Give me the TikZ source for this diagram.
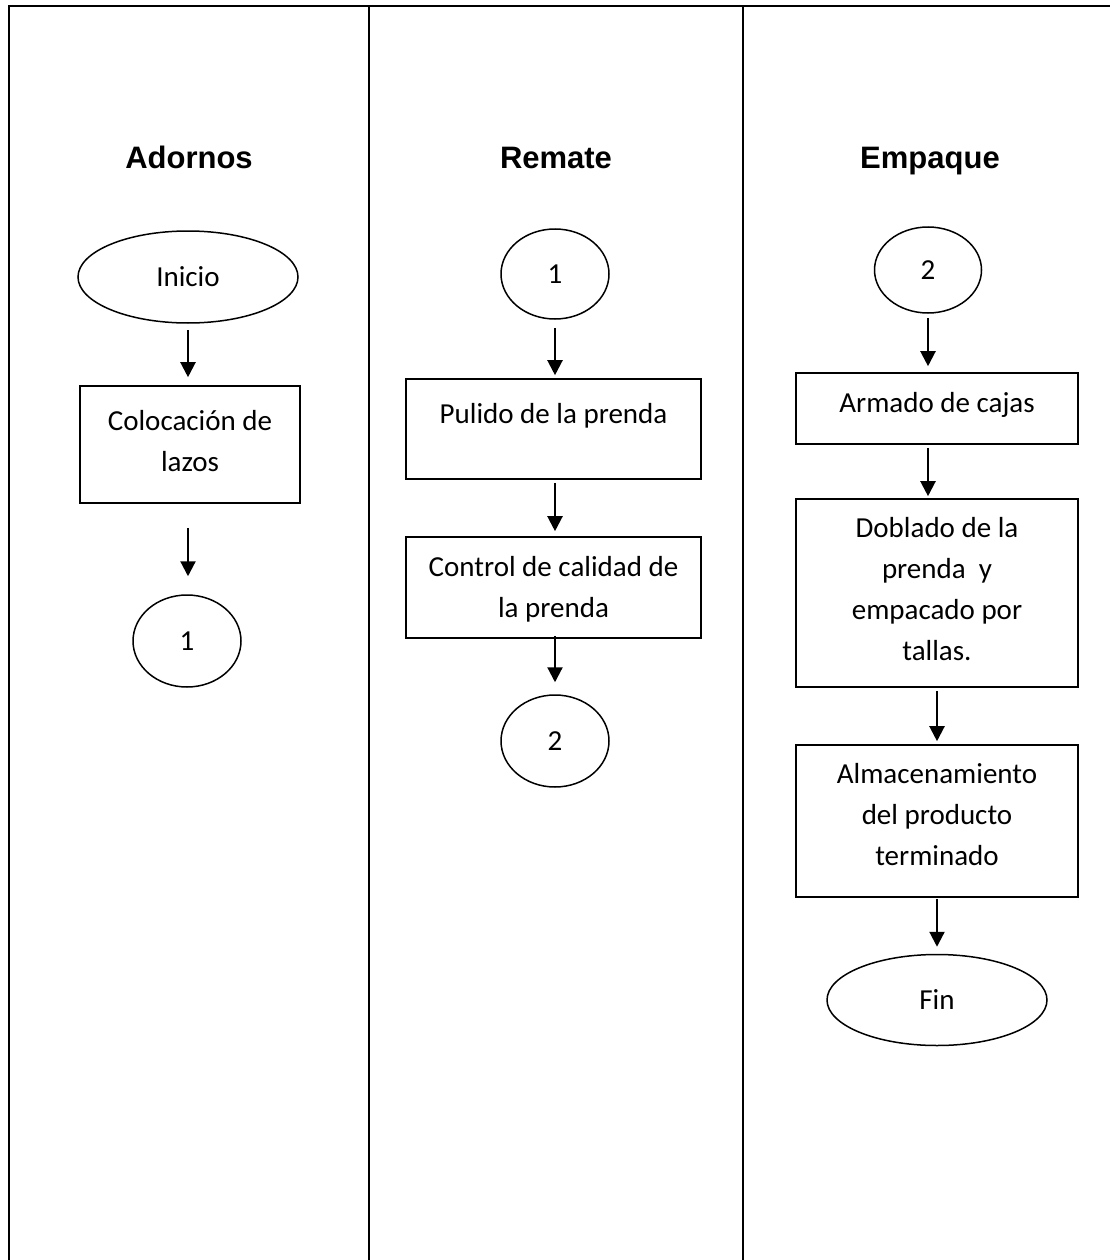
\documentclass[tikz,border=0pt]{standalone}
\usepackage{fontspec}
\setmainfont{Carlito}
\newfontfamily\headfont{Liberation Sans}
\usetikzlibrary{shapes.geometric,arrows.meta}
\begin{document}
\begin{tikzpicture}[x=1pt,y=-1pt,
  lane/.style={line width=2.6pt,line cap=rect},
  head/.style={font=\headfont\bfseries\fontsize{31}{37}\selectfont,anchor=base,inner sep=0},
  oval/.style={draw,ellipse,line width=1.5pt,inner sep=0,font=\fontsize{29}{35}\selectfont},
  procbox/.style={draw,rectangle,line width=1.6pt,inner sep=0},
  txt/.style={font=\fontsize{29}{41}\selectfont,align=center,inner sep=0,anchor=north},
  arr/.style={line width=2.2pt,-{Triangle[length=15pt,width=15pt]}}]
\useasboundingbox (0,0) rectangle (1110,1260);
% swimlanes
\draw[lane] (9,1262) -- (9,6) -- (1112,6);
\draw[lane] (369,6) -- (369,1262);
\draw[lane] (743,6) -- (743,1262);
% headings
\node[head] (h1) at (189,169) {Adornos};
\node[head] (h2) at (556,169) {Remate};
\node[head] (h3) at (930,169) {Empaque};
% Adornos
\node[oval,minimum width=220pt,minimum height=92pt] (inicio) at (188,277) {Inicio};
\node[procbox,minimum width=220pt,minimum height=117pt] (b1) at (190,444.5) {};
\node[txt] (t1) at (190,401.3) {\strut Colocación de\\lazos};
\node[oval,minimum width=108pt,minimum height=92pt] (c1a) at (187,641) {1};
% Remate
\node[oval,minimum width=108pt,minimum height=90pt] (c1r) at (555,274) {1};
\node[procbox,minimum width=295pt,minimum height=100pt] (b2) at (553.5,429) {};
\node[txt] (t2) at (553.5,394.3) {\strut Pulido de la prenda};
\node[procbox,minimum width=295pt,minimum height=101pt] (b3) at (553.5,587.5) {};
\node[txt] (t3) at (553.5,547.3) {\strut Control de calidad de\\la prenda};
\node[oval,minimum width=108pt,minimum height=92pt] (c2r) at (555,741) {2};
% Empaque
\node[oval,minimum width=107pt,minimum height=86pt] (c2e) at (928,270) {2};
\node[procbox,minimum width=282pt,minimum height=71pt] (b4) at (937,408.5) {};
\node[txt] (t4) at (937,383.3) {\strut Armado de cajas};
\node[procbox,minimum width=282pt,minimum height=188pt] (b5) at (937,593) {};
\node[txt] (t5) at (937,508.3) {\strut Doblado de la\\prenda~ y\\empacado por\\tallas.};
\node[procbox,minimum width=282pt,minimum height=152pt] (b6) at (937,821) {};
\node[txt] (t6) at (937,754.3) {\strut Almacenamiento\\del producto\\terminado};
\node[oval,minimum width=220pt,minimum height=91pt] (fin) at (937,1000) {Fin};
% connectors
\draw[arr,shorten <=6pt,shorten >=8pt] (inicio.south) -- (b1.north -| inicio.south);
\draw[arr,shorten <=24pt,shorten >=18pt] (b1.south -| inicio.south) -- (c1a.north -| inicio.south);
\draw[arr,shorten <=8pt,shorten >=3pt] (c1r.south) -- (b2.north -| c1r.south);
\draw[arr,shorten <=3pt,shorten >=5pt] (b2.south -| c1r.south) -- (b3.north -| c1r.south);
\draw[arr,shorten <=-3pt,shorten >=12pt] (b3.south -| c1r.south) -- (c2r.north -| c1r.south);
\draw[arr,shorten <=4pt,shorten >=6pt] (c2e.south) -- (b4.north -| c2e.south);
\draw[arr,shorten <=3pt,shorten >=2pt] (b4.south -| c2e.south) -- (b5.north -| c2e.south);
\draw[arr,shorten <=3pt,shorten >=3pt] (b5.south) -- (b6.north);
\draw[arr,shorten <=1pt,shorten >=7pt] (b6.south) -- (fin.north);
\end{tikzpicture}
\end{document}
